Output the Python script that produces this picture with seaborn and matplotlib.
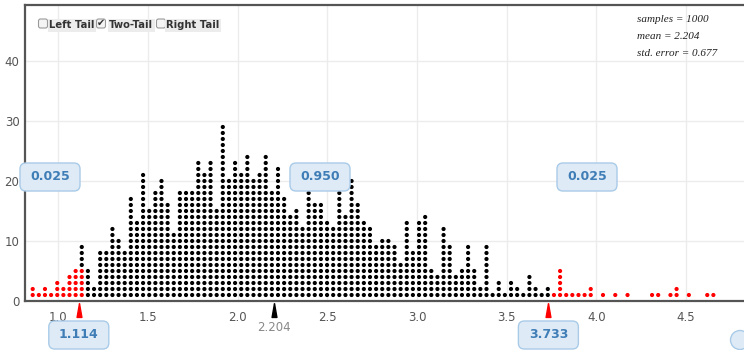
import pandas as pd
import seaborn as sns
import matplotlib.pyplot as plt
from matplotlib.patches import FancyBboxPatch, Ellipse
from matplotlib.transforms import IdentityTransform, blended_transform_factory

# dots stacked in each column of the bootstrap dot plot, left to right
counts = [2, 1, 2, 1, 3, 2, 4, 5, 9, 5,
          2, 8, 8, 12, 10, 8, 17, 13, 21, 15,
          18, 20, 16, 11, 18, 18, 18, 23, 21, 23,
          15, 29, 20, 23, 21, 24, 20, 21, 24, 18,
          22, 17, 14, 15, 12, 20, 16, 16, 13, 12,
          20, 14, 20, 16, 13, 12, 9, 10, 10, 9,
          6, 13, 8, 13, 14, 5, 4, 12, 9, 4,
          5, 9, 5, 2, 9, 1, 3, 1, 3, 2,
          1, 4, 2, 1, 2, 1, 5, 1, 1, 1,
          1, 2, 0, 1, 0, 1, 0, 1, 0, 0,
          0, 1, 1, 0, 1, 2, 0, 1, 0, 0,
          1, 1]
bin_start = 0.857     # centre of the first column
bin_width = 0.0342

# red dots at the bottom of the first columns (left tail)
red_left = [2, 1, 2, 1, 3, 2, 4, 5, 5]
right_tail_from = 85  # column index where the right tail starts

cutoffs = [1.114, 3.733]
mean_value = 2.204
tail_props = ["0.025", "0.950", "0.025"]
stats_lines = ["samples = 1000", "mean = 2.204", "std. error = 0.677"]
x_ticks = [1.0, 1.5, 2.0, 2.5, 3.0, 3.5, 4.0, 4.5]
y_ticks = [0, 10, 20, 30, 40]

# one row per dot
rows = []
for i, n in enumerate(counts):
    x = bin_start + i * bin_width
    for k in range(1, n + 1):
        red = (i < len(red_left) and k <= red_left[i]) or i >= right_tail_from
        rows.append((x, k, "tail" if red else "middle"))
df = pd.DataFrame(rows, columns=["stat", "level", "region"])

sns.set_style("white")
plt.rcParams["font.family"] = ["DejaVu Sans"]

W, H = 744, 350
fig = plt.figure(figsize=(W / 100, H / 100), dpi=100)
ax = fig.add_axes([25 / W, 49 / H, 719 / W, 296 / H])

sns.scatterplot(data=df, x="stat", y="level", hue="region",
                palette={"tail": "#ff0000", "middle": "#000000"},
                s=9, linewidth=0, legend=False, ax=ax, zorder=3)

ax.set_xlim(0.814, 4.824)
ax.set_ylim(0, 49.33)
ax.set_xticks(x_ticks)
ax.set_xticklabels(["{:.1f}".format(t) for t in x_ticks])
ax.set_yticks(y_ticks)
ax.grid(True, color="#ececec", lw=1)
ax.set_axisbelow(True)
ax.tick_params(axis="both", length=0, labelsize=8.5, labelcolor="#555555")
ax.tick_params(axis="x", pad=7)
ax.tick_params(axis="y", pad=4)
ax.set_xlabel("")
ax.set_ylabel("")
for side in ["left", "top", "bottom"]:
    ax.spines[side].set_color("#555555")
    ax.spines[side].set_linewidth(1.6)
ax.spines["right"].set_visible(False)

# triangles under the axis for the cutoffs and the mean
trans = blended_transform_factory(ax.transData, ax.transAxes)
tri = [(0, 1), (-0.35, -1), (0.35, -1), (0, 1)]
for xv, col in [(cutoffs[0], "#ff0000"), (mean_value, "#000000"), (cutoffs[1], "#ff0000")]:
    ax.plot([xv], [-0.031], marker=tri, ms=10, color=col, mec=col,
            transform=trans, clip_on=False, zorder=6)
ax.text(mean_value, -0.09, "{:.3f}".format(mean_value), transform=trans,
        ha="center", va="center", fontsize=8.5, color="#888888")


def to_px(xv):
    return ax.transData.transform((xv, 0))[0]


def tag(cx, cy, label, w=60, h=28):
    # rounded light-blue label box, pixel coords measured from the top
    y = H - cy
    box = FancyBboxPatch((cx - w / 2, y - h / 2), w, h,
                         boxstyle="round,pad=0,rounding_size=6",
                         transform=IdentityTransform(), fc="#deebf7",
                         ec="#a9cbe8", lw=1, zorder=10)
    fig.add_artist(box)
    fig.text(cx / W, y / H, label, ha="center", va="center", fontsize=9,
             fontweight="bold", color="#3f7db6", zorder=11)


for c in cutoffs:
    tag(to_px(c), 335, "{:.3f}".format(c))
for cx, label in zip([50, 320, 587], tail_props):
    tag(cx, 177, label)

# checkboxes in the top-left corner
checks = [("Left Tail", 43, 72, False), ("Two-Tail", 101, 131, True),
          ("Right Tail", 161, 193, False)]
for label, bx, tx, on in checks:
    box = FancyBboxPatch((bx - 4.5, H - 28), 9, 9,
                         boxstyle="round,pad=0,rounding_size=2",
                         transform=IdentityTransform(), fc="#f4f4f4",
                         ec="#9a9a9a", lw=0.8, zorder=10)
    fig.add_artist(box)
    if on:
        fig.text(bx / W, (H - 23) / H, "\u2714", ha="center", va="center",
                 fontsize=7, color="#333333", zorder=11)
    fig.text(tx / W, (H - 25) / H, label, ha="center", va="center",
             fontsize=7.2, fontweight="bold", color="#333333", zorder=11,
             bbox=dict(boxstyle="square,pad=0.15", fc="#ececec", ec="none"))

# summary stats in the top-right corner
for j, line in enumerate(stats_lines):
    fig.text(637 / W, (H - 20 - 16.5 * j) / H, line, ha="left", va="center",
             fontsize=8, style="italic", family=["Liberation Serif"],
             color="#222222")

# partial round button at the bottom-right corner
fig.add_artist(Ellipse((740, 10), 19, 19, transform=IdentityTransform(),
                       fc="#deebf7", ec="#a9cbe8", lw=1, zorder=10))

fig.savefig("out.png", dpi=100)
